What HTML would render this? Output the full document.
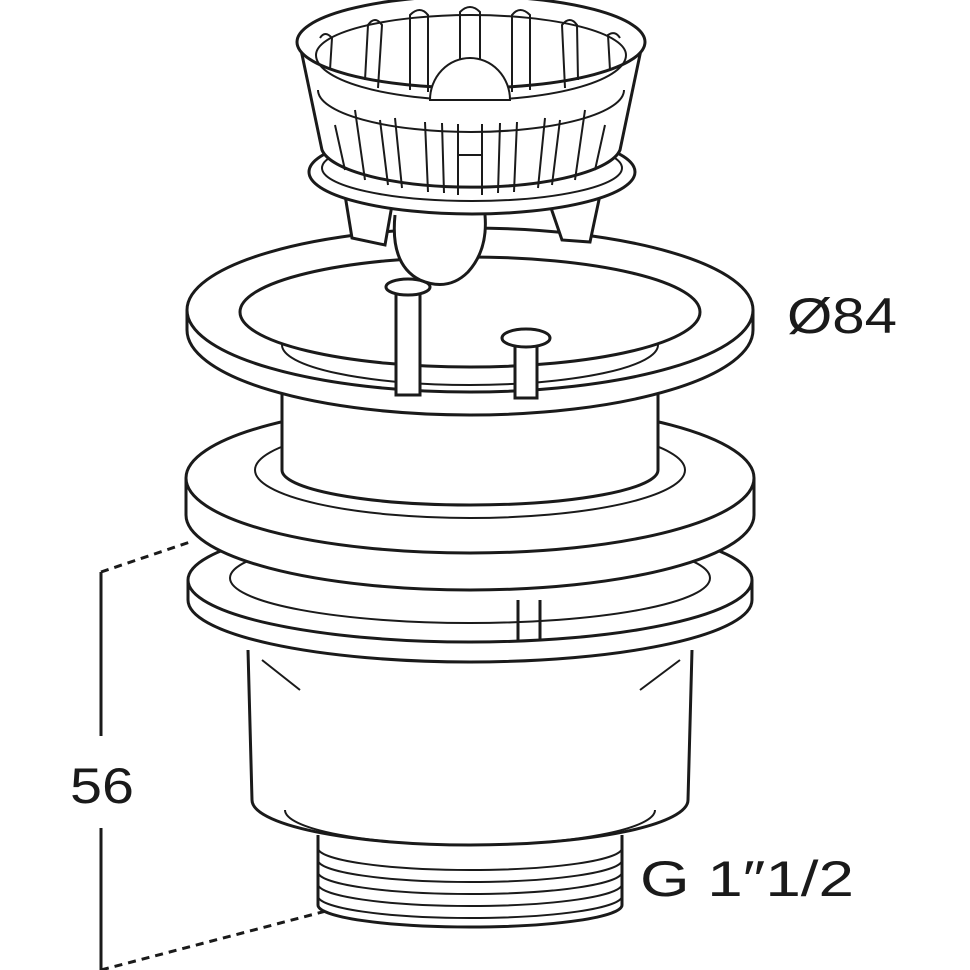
<!DOCTYPE html>
<html><head><meta charset="utf-8"><style>
html,body{margin:0;padding:0;background:#fff;}
svg{display:block}
text{font-family:"Liberation Sans",sans-serif;fill:#1a1a1a}
</style></head><body>
<svg width="970" height="970" viewBox="0 0 970 970" xmlns="http://www.w3.org/2000/svg">
<g fill="none" stroke="#1a1a1a" stroke-width="3">
<path d="M318 835 L318 905 A152 22 0 0 0 622 905 L622 835" fill="#fff"/>
<g stroke-width="2">
<path d="M318 848 A152 22 0 0 0 622 848"/><path d="M318 860 A152 22 0 0 0 622 860"/>
<path d="M318 872 A152 22 0 0 0 622 872"/><path d="M318 884 A152 22 0 0 0 622 884"/>
<path d="M318 896 A152 22 0 0 0 622 896"/>
</g>
<path d="M248 650 L252 800 A218 45 0 0 0 688 800 L692 650" fill="#fff"/>
<path d="M285 810 A185 35 0 0 0 655 810" stroke-width="2"/>
<path d="M262 660 L300 690 M680 660 L640 690" stroke-width="2"/>
<path d="M188 580 L188 600 A282 62 0 0 0 752 600 L752 580" fill="#fff"/>
<ellipse cx="470" cy="580" rx="282" ry="62" fill="#fff"/>
<ellipse cx="470" cy="578" rx="240" ry="45" stroke-width="2"/>
<line x1="518" y1="600" x2="518" y2="640"/><line x1="540" y1="600" x2="540" y2="640"/>
<path d="M186 478 L186 515 A284 75 0 0 0 754 515 L754 478" fill="#fff"/>
<ellipse cx="470" cy="478" rx="284" ry="75" fill="#fff"/>
<ellipse cx="470" cy="470" rx="215" ry="48" stroke-width="2"/>
<path d="M282 360 L282 470 A188 35 0 0 0 658 470 L658 360" fill="#fff"/>
<path d="M187 310 L187 330 A283 85 0 0 0 753 330 L753 310" fill="#fff"/>
<ellipse cx="470" cy="310" rx="283" ry="82" fill="#fff"/>
<ellipse cx="470" cy="312" rx="230" ry="55"/>
<path d="M282 345 A188 40 0 0 0 658 345" stroke-width="2"/>
<rect x="396" y="285" width="24" height="110" fill="#fff"/>
<ellipse cx="408" cy="287" rx="22" ry="8" fill="#fff"/>
<rect x="515" y="338" width="22" height="60" fill="#fff"/>
<ellipse cx="526" cy="338" rx="24" ry="9" fill="#fff"/>
<path d="M345 195 L352 238 L385 245 L392 205 M550 205 L562 240 L590 242 L600 195" fill="#fff"/>
<path d="M395 215 Q390 265 420 280 Q448 292 468 272 Q488 250 485 215" fill="#fff"/>
<ellipse cx="472" cy="172" rx="163" ry="42" fill="#fff"/>
<ellipse cx="472" cy="168" rx="150" ry="33" stroke-width="2"/>
<path d="M300 45 L322 150 A150 42 0 0 0 620 150 L642 45" fill="#fff"/>
<ellipse cx="471" cy="42" rx="174" ry="46" fill="#fff"/>
<path d="M316 55 A155 40 0 0 1 626 55" stroke-width="2"/>
<path d="M316 55 A155 45 0 0 0 626 55" stroke-width="2"/>
<path d="M318 90 A153 42 0 0 0 624 90" stroke-width="2"/>
<g stroke-width="2">
<path d="M365 80 L368 25 Q375 15 382 25 L378 88"/>
<path d="M410 90 L410 15 Q420 5 428 15 L428 92"/>
<path d="M512 92 L512 15 Q520 5 530 15 L530 90"/>
<path d="M565 88 L562 25 Q570 15 577 25 L578 80"/>
<path d="M610 70 L608 35 Q615 30 620 38"/>
<path d="M330 70 L332 38 Q325 30 320 38"/>
<path d="M460 80 L460 12 Q470 2 480 12 L480 80"/>
<path d="M335 125 L345 170"/><path d="M355 110 L365 180"/>
<path d="M380 120 L388 185 M395 118 L402 188"/>
<path d="M425 122 L428 192 M442 123 L444 193"/>
<path d="M458 124 L458 195 M482 124 L482 195 M458 155 L482 155"/>
<path d="M500 123 L498 193 M517 122 L514 192"/>
<path d="M545 118 L538 188 M560 120 L552 185"/>
<path d="M585 110 L575 180 M605 125 L595 170"/>
</g>
<path d="M430 100 A40 42 0 0 1 510 100 Z" fill="#fff" stroke-width="2"/>
</g>
<g stroke="#1a1a1a" stroke-width="3" fill="none">
<line x1="101" y1="572" x2="101" y2="736"/>
<line x1="101" y1="828" x2="101" y2="970"/>
<line x1="101" y1="572" x2="190" y2="542" stroke-dasharray="8 6"/>
<line x1="101" y1="970" x2="330" y2="910" stroke-dasharray="8 6"/>
</g>
<text x="70" y="803" font-size="50" textLength="64" lengthAdjust="spacingAndGlyphs">56</text>
<text x="787" y="333" font-size="50" textLength="110" lengthAdjust="spacingAndGlyphs">Ø84</text>
<text x="640" y="896" font-size="50" textLength="214" lengthAdjust="spacingAndGlyphs">G 1″1/2</text>
</svg>
</body></html>
